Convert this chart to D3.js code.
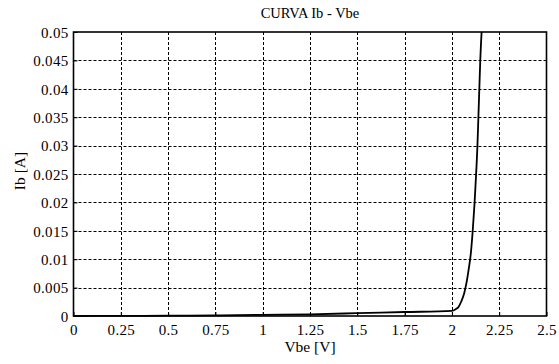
<!DOCTYPE html>
<html><head><meta charset="utf-8">
<script src="https://cdn.jsdelivr.net/npm/d3@7"></script>
<style>
body{margin:0;background:#fff;}
svg text{font-family:"Liberation Serif","Times New Roman",serif !important;fill:#000;}
</style></head>
<body><svg id="c" width="559" height="364"></svg>
<script>
const titleText = "CURVA Ib - Vbe";
const xLabel = "Vbe [V]";
const yLabel = "Ib [A]";
const xTicks = [0,0.25,0.5,0.75,1,1.25,1.5,1.75,2,2.25,2.5];
const yTicks = [0,0.005,0.01,0.015,0.02,0.025,0.03,0.035,0.04,0.045,0.05];
const vbe = [0,0.25,0.5,0.75,1.0,1.25,1.5,1.75,2.0,2.02,2.035,2.05,2.065,2.078,2.09,2.1,2.11,2.12,2.128,2.135,2.14,2.145,2.15,2.157];
const ib  = [0,0.00002,0.00005,0.0001,0.0002,0.0003,0.0005,0.0007,0.0009,0.0012,0.0016,0.0026,0.004,0.006,0.0085,0.011,0.015,0.02,0.025,0.03,0.035,0.04,0.045,0.05];

const svg = d3.select("#c");
const L=73.5, R=546.5, T=32, B=316;
const x = d3.scaleLinear().domain([0,2.5]).range([L,R]);
const y = d3.scaleLinear().domain([0,0.05]).range([B,T]);
const fmt = d => String(+d.toFixed(3));

// grid
const g = svg.append("g");
g.selectAll(".gx").data(xTicks.slice(1,-1)).enter().append("line")
  .attr("x1",d=>Math.round(x(d))+0.5).attr("x2",d=>Math.round(x(d))+0.5)
  .attr("y1",T).attr("y2",B).attr("stroke","#000").attr("stroke-width",1).attr("stroke-dasharray","3,2");
g.selectAll(".gy").data(yTicks.slice(1,-1)).enter().append("line")
  .attr("y1",d=>Math.round(y(d))+0.5).attr("y2",d=>Math.round(y(d))+0.5)
  .attr("x1",L).attr("x2",R).attr("stroke","#000").attr("stroke-width",1).attr("stroke-dasharray","3,2");

// axes (ticks inside)
const xa = svg.append("g").attr("transform",`translate(0,${B})`)
  .call(d3.axisBottom(x).tickValues(xTicks).tickFormat(fmt).tickSize(-4).tickPadding(8));
const ya = svg.append("g").attr("transform",`translate(${L},0)`)
  .call(d3.axisLeft(y).tickValues(yTicks).tickFormat(fmt).tickSize(-4).tickPadding(5));
[xa,ya].forEach(a=>{a.select(".domain").remove();
  a.attr("font-family",null).attr("font-size",null);
  a.selectAll("text").attr("font-size","15px").attr("letter-spacing","0.3px").attr("fill","#000");
  a.selectAll("line").attr("stroke","#000");});
ya.selectAll("text").attr("dy","0.35em");

// box
svg.append("rect").attr("x",L).attr("y",T).attr("width",R-L).attr("height",B-T)
  .attr("fill","none").attr("stroke","#000").attr("stroke-width",1.6);

// curve
const pts = vbe.map((v,i)=>[v,ib[i]]);
svg.append("path").datum(pts)
  .attr("d",d3.line().x(d=>x(d[0])).y(d=>y(d[1])).curve(d3.curveMonotoneX))
  .attr("fill","none").attr("stroke","#000").attr("stroke-width",1.8);

// labels
svg.append("text").attr("x",(L+R)/2).attr("y",18).attr("text-anchor","middle")
  .attr("font-size","14.5px").text(titleText);
svg.append("text").attr("x",(L+R)/2).attr("y",352).attr("text-anchor","middle")
  .attr("font-size","15.5px").text(xLabel);
svg.append("text").attr("transform",`translate(25,${(T+B)/2 - 3}) rotate(-90)`).attr("text-anchor","middle")
  .attr("font-size","15.5px").text(yLabel);
</script></body></html>
